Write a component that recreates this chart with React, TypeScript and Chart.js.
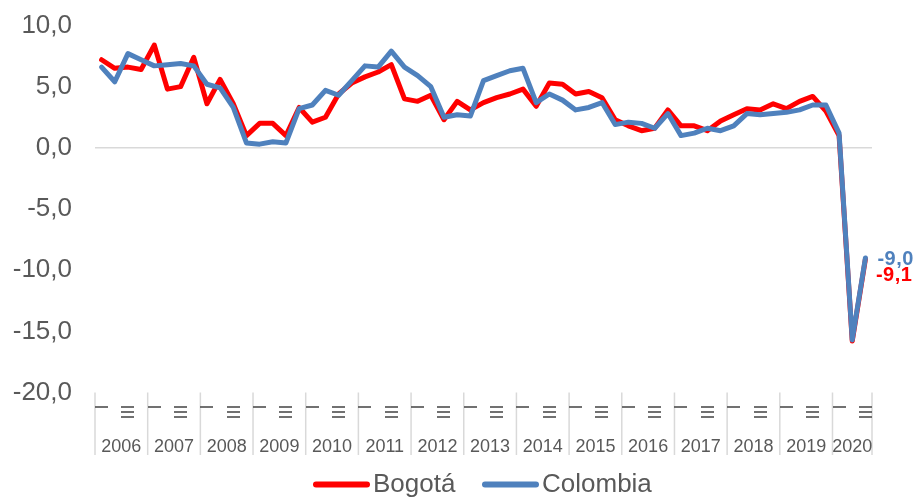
import React, { useEffect, useRef } from 'react';
import { Chart, registerables } from 'chart.js';

Chart.register(...registerables);

// ---- Data ----
const years = [2006, 2007, 2008, 2009, 2010, 2011, 2012, 2013, 2014, 2015, 2016, 2017, 2018, 2019, 2020];
const quarters = ['I', 'II', 'III', 'IV'];

const bogota = [
  7.2, 6.5, 6.6, 6.4,
  8.4, 4.8, 5.0, 7.4,
  3.6, 5.6, 3.6, 1.0,
  2.0, 2.0, 1.0, 3.3,
  2.1, 2.5, 4.4, 5.3,
  5.8, 6.2, 6.8, 4.0,
  3.8, 4.3, 2.3, 3.8,
  3.1, 3.7, 4.1, 4.4,
  4.8, 3.4, 5.3, 5.2,
  4.4, 4.6, 4.1, 2.3,
  1.8, 1.4, 1.6, 3.1,
  1.8, 1.8, 1.4, 2.2,
  2.7, 3.2, 3.1, 3.6,
  3.2, 3.8, 4.2, 3.0,
  1.0, -15.8, -9.1,
];

const colombia = [
  6.6, 5.4, 7.7, 7.2,
  6.7, 6.8, 6.9, 6.7,
  5.2, 4.9, 3.3, 0.4,
  0.3, 0.5, 0.4, 3.2,
  3.5, 4.7, 4.3, 5.5,
  6.7, 6.6, 7.9, 6.6,
  5.9, 5.0, 2.5, 2.7,
  2.6, 5.5, 5.9, 6.3,
  6.5, 3.7, 4.4, 3.9,
  3.1, 3.3, 3.7, 1.9,
  2.1, 2.0, 1.6, 2.8,
  1.0, 1.2, 1.6, 1.4,
  1.8, 2.8, 2.7, 2.8,
  2.9, 3.1, 3.5, 3.5,
  1.2, -15.7, -9.0,
];

const shownQuarterLabels = ['I', 'III'];
const endLabelColombia = '-9,0';
const endLabelBogota = '-9,1';

const categoryYear: number[] = [];
const categoryQuarter: string[] = [];
years.forEach((y) => quarters.forEach((q) => { categoryYear.push(y); categoryQuarter.push(q); }));
const nCat = bogota.length;
const categories = categoryQuarter.slice(0, nCat).map((q, i) => `${q} ${categoryYear[i]}`);

const RED = '#FF0000';
const BLUE = '#4F81BD';
const GREY = '#595959';
const LIGHT = '#D9D9D9';
const FONT = '"Liberation Sans", Arial, sans-serif';

const overlay = {
  id: 'overlay',
  afterDraw(chart: any) {
    const ctx = chart.ctx as CanvasRenderingContext2D;
    const xs = chart.scales.x;
    const area = chart.chartArea;
    const half = (xs.getPixelForValue(1) - xs.getPixelForValue(0)) / 2;
    ctx.save();

    // year dividers
    ctx.strokeStyle = LIGHT;
    ctx.lineWidth = 1.5;
    const divs: number[] = [];
    for (let i = 0; i < nCat; i += 4) divs.push(xs.getPixelForValue(i) - half);
    divs.push(xs.getPixelForValue(nCat - 1) + half);
    divs.forEach((x) => {
      ctx.beginPath();
      ctx.moveTo(x, area.bottom);
      ctx.lineTo(x, 455);
      ctx.stroke();
    });

    // quarter labels (rotated)
    ctx.fillStyle = GREY;
    ctx.font = `18px ${FONT}`;
    const capH = 18 * 0.716;
    for (let i = 0; i < nCat; i++) {
      const q = categoryQuarter[i];
      if (!shownQuarterLabels.includes(q)) continue;
      const cx = xs.getPixelForValue(i);
      ctx.save();
      ctx.translate(cx + capH / 2, 404.5);
      ctx.rotate(-Math.PI / 2);
      ctx.textAlign = 'right';
      ctx.textBaseline = 'alphabetic';
      ctx.fillText(q, 0, 0);
      ctx.restore();
    }

    // year labels
    ctx.textAlign = 'center';
    ctx.textBaseline = 'alphabetic';
    years.forEach((y) => {
      const idx: number[] = [];
      for (let i = 0; i < nCat; i++) if (categoryYear[i] === y) idx.push(i);
      if (!idx.length) return;
      const x0 = xs.getPixelForValue(idx[0]) - half;
      const x1 = xs.getPixelForValue(idx[idx.length - 1]) + half;
      ctx.fillText(String(y), (x0 + x1) / 2, 452);
    });

    // end labels
    const lastX = xs.getPixelForValue(nCat - 1);
    ctx.textAlign = 'left';
    ctx.font = `bold 20px ${FONT}`;
    (ctx as any).letterSpacing = '0.5px';
    ctx.fillStyle = BLUE;
    ctx.fillText(endLabelColombia, lastX + 12, 265);
    ctx.fillStyle = RED;
    ctx.fillText(endLabelBogota, lastX + 10.5, 281);
    (ctx as any).letterSpacing = '0px';

    // legend
    ctx.lineCap = 'round';
    ctx.lineWidth = 6;
    ctx.font = `26px ${FONT}`;
    ctx.fillStyle = GREY;
    ctx.strokeStyle = RED;
    ctx.beginPath();
    ctx.moveTo(316, 484.5);
    ctx.lineTo(367, 484.5);
    ctx.stroke();
    ctx.fillText('Bogotá', 373, 492);
    ctx.strokeStyle = BLUE;
    ctx.beginPath();
    ctx.moveTo(485, 484.5);
    ctx.lineTo(536, 484.5);
    ctx.stroke();
    ctx.fillText('Colombia', 542, 492);

    ctx.restore();
  },
};

export default function App() {
  const ref = useRef<HTMLCanvasElement | null>(null);
  useEffect(() => {
    if (!ref.current) return;
    const chart = new Chart(ref.current, {
      type: 'line',
      data: {
        labels: categories,
        datasets: [
          {
            label: 'Colombia',
            data: colombia,
            borderColor: BLUE,
            backgroundColor: BLUE,
            borderWidth: 5,
            pointRadius: 0,
            tension: 0,
            borderJoinStyle: 'round',
            borderCapStyle: 'round',
          },
          {
            label: 'Bogotá',
            data: bogota,
            borderColor: RED,
            backgroundColor: RED,
            borderWidth: 5,
            pointRadius: 0,
            tension: 0,
            borderJoinStyle: 'round',
            borderCapStyle: 'round',
          },
        ],
      },
      options: {
        animation: false,
        responsive: true,
        maintainAspectRatio: false,
        layout: { padding: { top: 25.5, right: 45, left: 0, bottom: 0 } },
        plugins: { legend: { display: false }, tooltip: { enabled: false } },
        scales: {
          x: {
            type: 'category',
            offset: true,
            grid: { display: false },
            border: { display: false },
            ticks: { display: false },
            afterFit: (s: any) => { s.height = 497 - 392.5; s.paddingLeft = 0; s.paddingRight = 0; },
          },
          y: {
            min: -20,
            max: 10,
            border: { display: false },
            grid: {
              drawTicks: false,
              lineWidth: 1.5,
              color: (c: any) => (c.tick && c.tick.value === 0 ? LIGHT : 'rgba(0,0,0,0)'),
            },
            ticks: {
              stepSize: 5,
              padding: 23,
              color: GREY,
              font: { family: FONT, size: 26 },
              callback: (v: any) => Number(v).toFixed(1).replace('.', ','),
            },
            afterFit: (s: any) => { s.width = 95; s.paddingTop = 0; s.paddingBottom = 0; },
          },
        },
      },
      plugins: [overlay],
    });
    return () => chart.destroy();
  }, []);
  return (
    <div style={{ position: 'absolute', left: 0, top: 0, width: 917, height: 497, background: '#fff' }}>
      <canvas ref={ref} />
    </div>
  );
}
